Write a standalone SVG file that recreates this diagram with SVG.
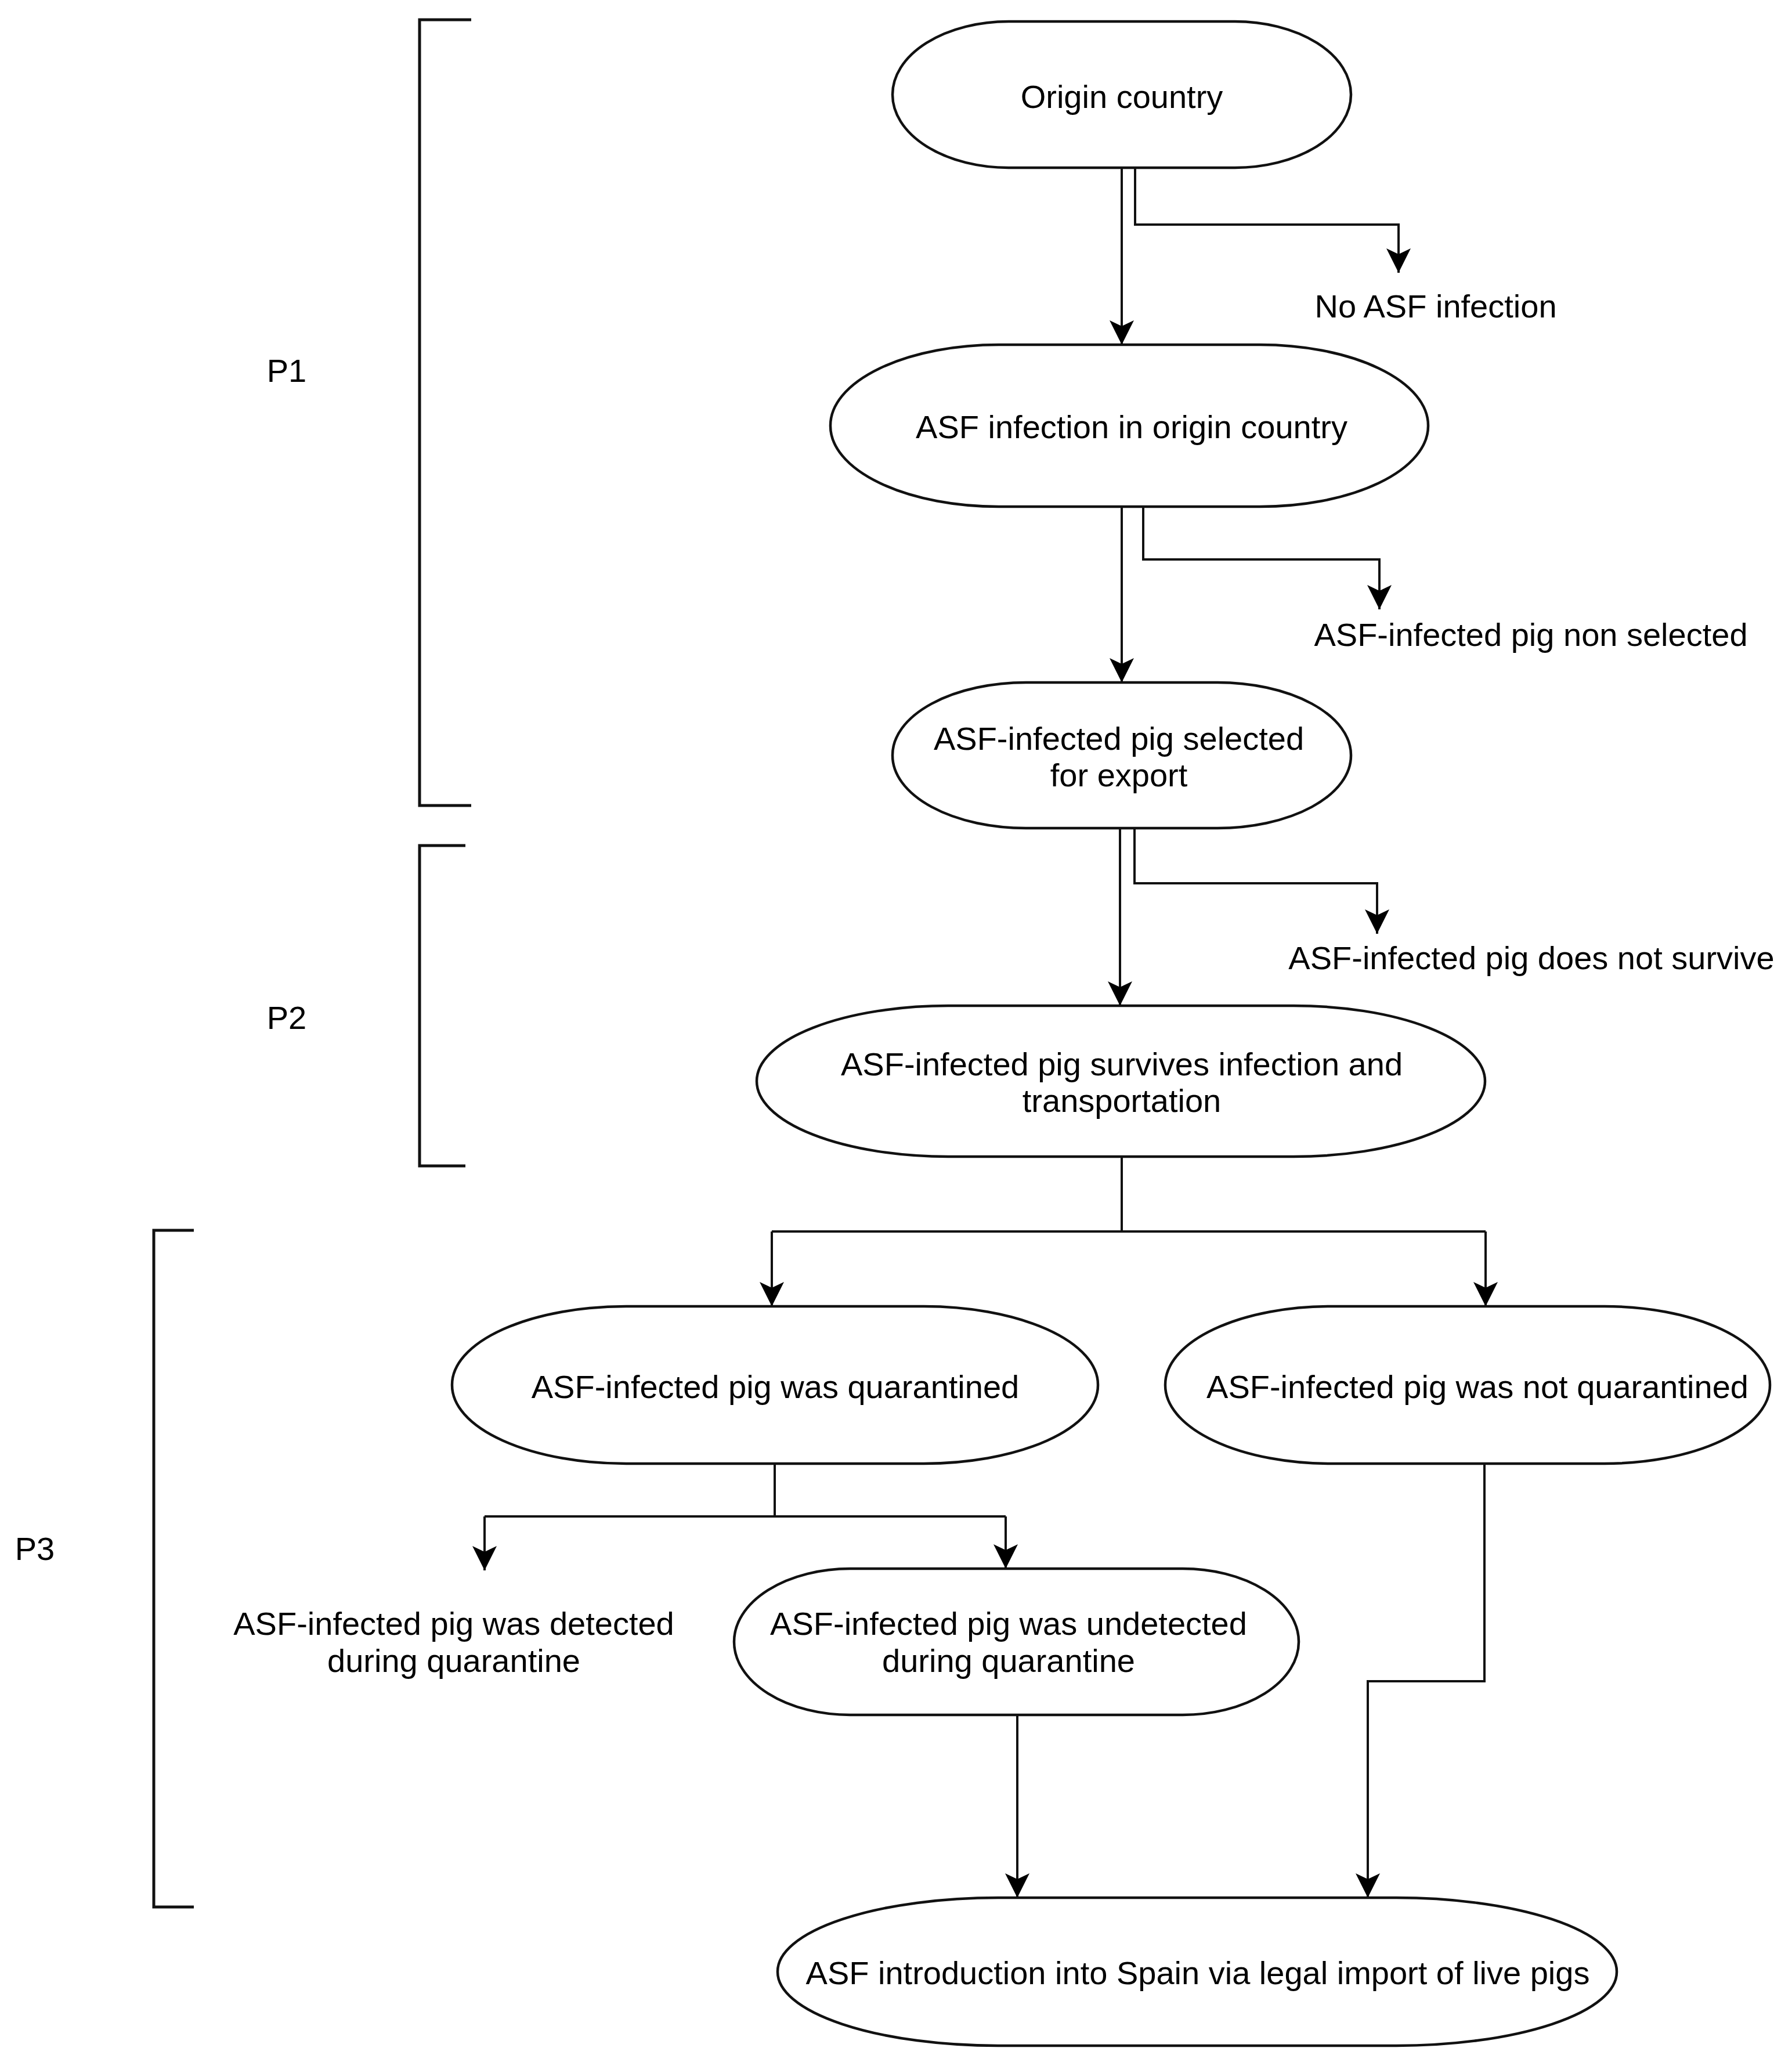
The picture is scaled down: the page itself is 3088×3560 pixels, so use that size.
<svg xmlns="http://www.w3.org/2000/svg" width="3088" height="3560" viewBox="0 0 3088 3560">
<style>
.node{fill:#fff;stroke:#111;stroke-width:4.5}
.t{font-family:"Liberation Sans",Arial,sans-serif;font-size:56px;fill:#000;text-anchor:middle}
.c{fill:none;stroke:#111;stroke-width:4}
.b{fill:none;stroke:#111;stroke-width:5}
</style>
<defs>
<marker id="arr" markerUnits="userSpaceOnUse" markerWidth="48" markerHeight="48" refX="44" refY="23" orient="auto">
<path d="M2,2 L44,23 L2,44 L12,23 Z" fill="#000"/>
</marker>
</defs>
<rect width="3088" height="3560" fill="#fff"/>
<g id="brackets">
<path class="b" d="M812,34 L723,34 L723,1388 L812,1388"/>
<path class="b" d="M802,1457 L723,1457 L723,2009 L802,2009"/>
<path class="b" d="M334,2120 L265,2120 L265,3286 L334,3286"/>
<text class="t" x="494" y="658">P1</text>
<text class="t" x="494" y="1773">P2</text>
<text class="t" x="60" y="2688">P3</text>
</g>
<g id="connectors">
<path class="c" d="M1933,289 L1933,594" marker-end="url(#arr)"/>
<path class="c" d="M1956,289 L1956,387 L2410,387 L2410,470" marker-end="url(#arr)"/>
<path class="c" d="M1933,873 L1933,1176" marker-end="url(#arr)"/>
<path class="c" d="M1970,873 L1970,964 L2377,964 L2377,1050" marker-end="url(#arr)"/>
<path class="c" d="M1930,1427 L1930,1733" marker-end="url(#arr)"/>
<path class="c" d="M1955,1427 L1955,1522 L2373,1522 L2373,1609" marker-end="url(#arr)"/>
<path class="c" d="M1933,1993 L1933,2122 M1330,2122 L2560,2122"/>
<path class="c" d="M1330,2122 L1330,2251" marker-end="url(#arr)"/>
<path class="c" d="M2560,2122 L2560,2251" marker-end="url(#arr)"/>
<path class="c" d="M1335,2522 L1335,2613 M835,2613 L1733,2613"/>
<path class="c" d="M835,2613 L835,2706" marker-end="url(#arr)"/>
<path class="c" d="M1733,2613 L1733,2703" marker-end="url(#arr)"/>
<path class="c" d="M2558,2522 L2558,2897 L2357,2897 L2357,3270" marker-end="url(#arr)"/>
<path class="c" d="M1753,2955 L1753,3270" marker-end="url(#arr)"/>
</g>
<g id="n-origin">
<rect class="node" x="1538" y="37" width="790" height="252" rx="200" ry="126"/>
<text class="t" x="1933" y="186">Origin country</text>
</g>
<g id="n-no-asf">
<text class="t" x="2474" y="547">No ASF infection</text>
</g>
<g id="n-infection">
<rect class="node" x="1431" y="594" width="1030" height="279" rx="290" ry="139"/>
<text class="t" x="1950" y="755">ASF infection in origin country</text>
</g>
<g id="n-non-selected">
<text class="t" x="2638" y="1113">ASF-infected pig non selected</text>
</g>
<g id="n-selected">
<rect class="node" x="1538" y="1176" width="790" height="251" rx="230" ry="125"/>
<text class="t" x="1928" y="1292">ASF-infected pig selected</text>
<text class="t" x="1928" y="1355">for export</text>
</g>
<g id="n-not-survive">
<text class="t" x="2639" y="1670">ASF-infected pig does not survive</text>
</g>
<g id="n-survives">
<rect class="node" x="1304" y="1733" width="1255" height="260" rx="330" ry="130"/>
<text class="t" x="1933" y="1853">ASF-infected pig survives infection and</text>
<text class="t" x="1933" y="1916">transportation</text>
</g>
<g id="n-quarantined">
<rect class="node" x="779" y="2251" width="1113" height="271" rx="300" ry="135"/>
<text class="t" x="1336" y="2409">ASF-infected pig was quarantined</text>
</g>
<g id="n-not-quarantined">
<rect class="node" x="2008" y="2251" width="1042" height="271" rx="285" ry="135"/>
<text class="t" x="2546" y="2409">ASF-infected pig was not quarantined</text>
</g>
<g id="n-detected">
<text class="t" x="782" y="2817">ASF-infected pig was detected</text>
<text class="t" x="782" y="2881">during quarantine</text>
</g>
<g id="n-undetected">
<rect class="node" x="1265" y="2703" width="973" height="252" rx="200" ry="126"/>
<text class="t" x="1738" y="2817">ASF-infected pig was undetected</text>
<text class="t" x="1738" y="2881">during quarantine</text>
</g>
<g id="n-introduction">
<rect class="node" x="1340" y="3270" width="1446" height="255" rx="380" ry="127"/>
<text class="t" x="2064" y="3419">ASF introduction into Spain via legal import of live pigs</text>
</g>
</svg>
